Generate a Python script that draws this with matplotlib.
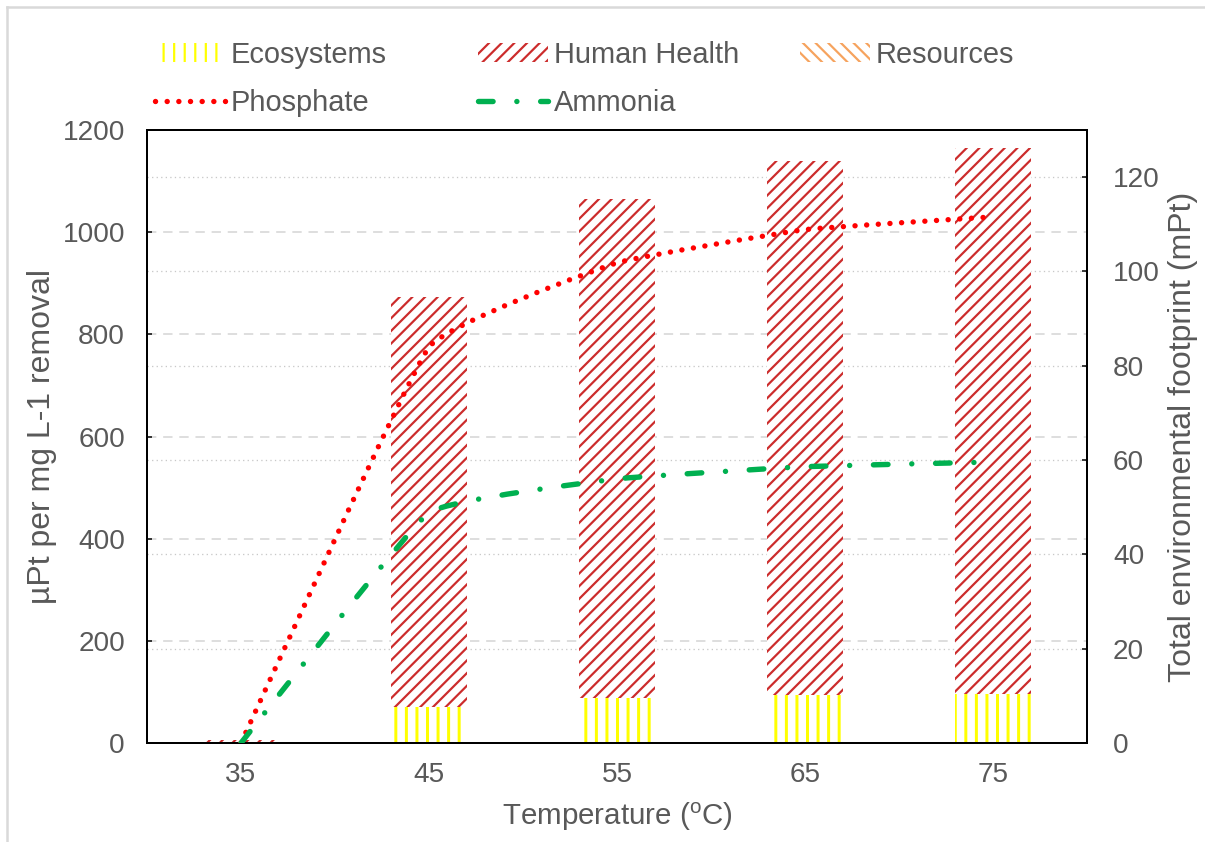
import numpy as np
import matplotlib
matplotlib.use("Agg")
import matplotlib.pyplot as plt
from matplotlib.path import Path
from matplotlib.patches import PathPatch, Patch
from matplotlib.lines import Line2D

# ---------------- data ----------------
temperatures = ["35", "45", "55", "65", "75"]
ecosystems = [0.0, 7.7, 9.5, 10.2, 10.4]          # mPt
human_health = [0.6, 86.9, 105.9, 113.2, 115.8]   # mPt
resources = [0.0, 0.0, 0.0, 0.0, 0.0]             # mPt
phosphate = [0, 775, 940, 1005, 1030]             # uPt per mg L-1 removal
ammonia = [0, 451, 517, 541, 550]                 # uPt per mg L-1 removal

left_ticks = [0, 200, 400, 600, 800, 1000, 1200]
right_ticks = [0, 20, 40, 60, 80, 100, 120]

# ---------------- setup ----------------
DPI = 190
W, H = 1205, 842


def pt(px):
    return px * 72.0 / DPI


plt.rcParams['font.family'] = ['Liberation Sans', 'DejaVu Sans']
plt.rcParams['mathtext.fontset'] = 'custom'
plt.rcParams['mathtext.rm'] = 'Liberation Sans'
plt.rcParams['hatch.linewidth'] = pt(2.2)

TXT = '#595959'
FS_TICK = pt(28)
FS_LEG = pt(29)
FS_XLAB = pt(29.5)
FS_YLAB = pt(32)

fig = plt.figure(figsize=(W / DPI, H / DPI), dpi=DPI)
fig.patch.set_facecolor('white')

L, R, T, B = 147, 1087, 130, 743
ax = fig.add_axes([L / W, (H - B) / H, (R - L) / W, (B - T) / H])
ax2 = ax.twinx()

x = np.arange(len(temperatures))

# left axis (lines)
ax.set_xlim(-0.5, len(temperatures) - 0.5)
ax.set_ylim(0, 1200)
ax.set_yticks(left_ticks)
ax.set_xticks(x)
ax.set_xticklabels(temperatures)
ax.tick_params(axis='y', direction='in', length=pt(5), width=pt(1.5), color='black',
               labelsize=FS_TICK, labelcolor=TXT, pad=pt(22), right=False)
ax.tick_params(axis='x', length=0, labelsize=FS_TICK, labelcolor=TXT, pad=pt(19))
ax.yaxis.grid(True, color='#d9d9d9', linewidth=pt(1.7), linestyle=(0, (5.5, 4)))
ax.set_axisbelow(True)

# right axis (bars)
ax2.set_ylim(0, 130)
ax2.set_yticks(right_ticks)
ax2.tick_params(axis='y', direction='in', length=pt(5), width=pt(1.5), color='black',
                labelsize=FS_TICK, labelcolor=TXT, pad=pt(26))
ax2.yaxis.grid(True, color='#c8c8c8', linewidth=pt(1.3), linestyle=(0, (1, 2.5)))
ax2.set_axisbelow(True)

for a in (ax, ax2):
    for s in a.spines.values():
        s.set_color('black')
        s.set_linewidth(pt(2))

RED_H = '#cc2c2c'
YEL = '#ffff00'
ORG = '#f6a35e'


def set_hlw(patches, px):
    for p in patches:
        if hasattr(p, 'set_hatch_linewidth'):
            p.set_hatch_linewidth(pt(px))


bw = 0.404
eco = np.array(ecosystems)
hh = np.array(human_health)
res = np.array(resources)
b1 = ax2.bar(x, eco, width=bw, color='white', edgecolor=YEL, hatch='|||', linewidth=0, zorder=2)
set_hlw(b1, 3.0)
b2 = ax2.bar(x, hh, bottom=eco, width=bw, color='white', edgecolor=RED_H, hatch='/////',
             linewidth=0, zorder=2)
set_hlw(b2, 2.2)
b3 = ax2.bar(x, res, bottom=eco + hh, width=bw, color='white', edgecolor=ORG,
             hatch='\\\\\\\\\\', linewidth=0, zorder=2)
set_hlw(b3, 2.2)


def smooth_path(xs, ys, k=0.3):
    """Bezier path through the data points (Excel-like smoothed line)."""
    pts = np.column_stack([xs, ys]).astype(float)
    n = len(pts)
    verts = [pts[0]]
    codes = [Path.MOVETO]
    for i in range(n - 1):
        p0 = pts[i - 1] if i > 0 else pts[i]
        p1 = pts[i]
        p2 = pts[i + 1]
        p3 = pts[i + 2] if i + 2 < n else pts[i + 1]
        c1 = p1 + k * (p2 - p0) / 6.0
        c2 = p2 - k * (p3 - p1) / 6.0
        verts += [c1, c2, p2]
        codes += [Path.CURVE4] * 3
    return Path(verts, codes)


LW = pt(5.4)
phos_style = (0, (0.01, 2.15))
amm_style = (0, (2.7, 4.4, 0.01, 4.4))

pp = PathPatch(smooth_path(x, phosphate), fill=False, edgecolor='#ff0000', linewidth=LW,
               linestyle=phos_style, capstyle='round', joinstyle='round',
               transform=ax.transData, zorder=5)
ax2.add_patch(pp)
pa = PathPatch(smooth_path(x, ammonia), fill=False, edgecolor='#00b050', linewidth=LW,
               linestyle=amm_style, capstyle='round', joinstyle='round',
               transform=ax.transData, zorder=5)
ax2.add_patch(pa)

# labels
ax.set_ylabel('µPt per mg L-1 removal', fontsize=FS_YLAB, color=TXT)
ax.yaxis.set_label_coords((57 - L) / (R - L), 0.5)
ax2.set_ylabel('Total environmental footprint (mPt)', fontsize=FS_YLAB, color=TXT)
ax2.yaxis.set_label_coords((1168 - L) / (R - L), 0.5)
ax.set_xlabel(r'Temperature ($\mathregular{^{o}}$C)', fontsize=FS_XLAB, color=TXT)
ax.xaxis.set_label_coords(0.5, (B - 801) / (B - T))

# legends (three columns, fixed positions)
h_eco = Patch(facecolor='white', edgecolor=YEL, hatch='|||', linewidth=0)
h_hh = Patch(facecolor='white', edgecolor=RED_H, hatch='/////', linewidth=0)
h_res = Patch(facecolor='white', edgecolor=ORG, hatch='\\\\\\\\\\', linewidth=0)
set_hlw([h_eco], 3.0)
set_hlw([h_hh, h_res], 2.2)
h_ph = Line2D([], [], color='#ff0000', linewidth=LW, linestyle=phos_style,
              dash_capstyle='round')
h_am = Line2D([], [], color='#00b050', linewidth=LW, linestyle=amm_style,
              dash_capstyle='round')

leg_kw = dict(loc='upper left', frameon=False, fontsize=FS_LEG, labelcolor=TXT,
              handlelength=2.4, handleheight=0.65, handletextpad=0.22,
              labelspacing=0.7, borderpad=0, borderaxespad=0)
cols = [((h_eco, h_ph), ('Ecosystems', 'Phosphate'), 155),
        ((h_hh, h_am), ('Human Health', 'Ammonia'), 478),
        ((h_res,), ('Resources',), 800)]
for hs, ls, xp in cols:
    fig.legend(hs, ls, bbox_to_anchor=(xp / W, 1 - 41 / H), **leg_kw)

# chart-area border (left and top)
fig.add_artist(Line2D([6.5 / W, 6.5 / W], [0, 1 - 7 / H], color='#d9d9d9', linewidth=pt(2.5),
                      transform=fig.transFigure))
fig.add_artist(Line2D([6.5 / W, 1], [1 - 7 / H, 1 - 7 / H], color='#d9d9d9', linewidth=pt(2.5),
                      transform=fig.transFigure))

fig.savefig('out.png', dpi=DPI, facecolor='white')
